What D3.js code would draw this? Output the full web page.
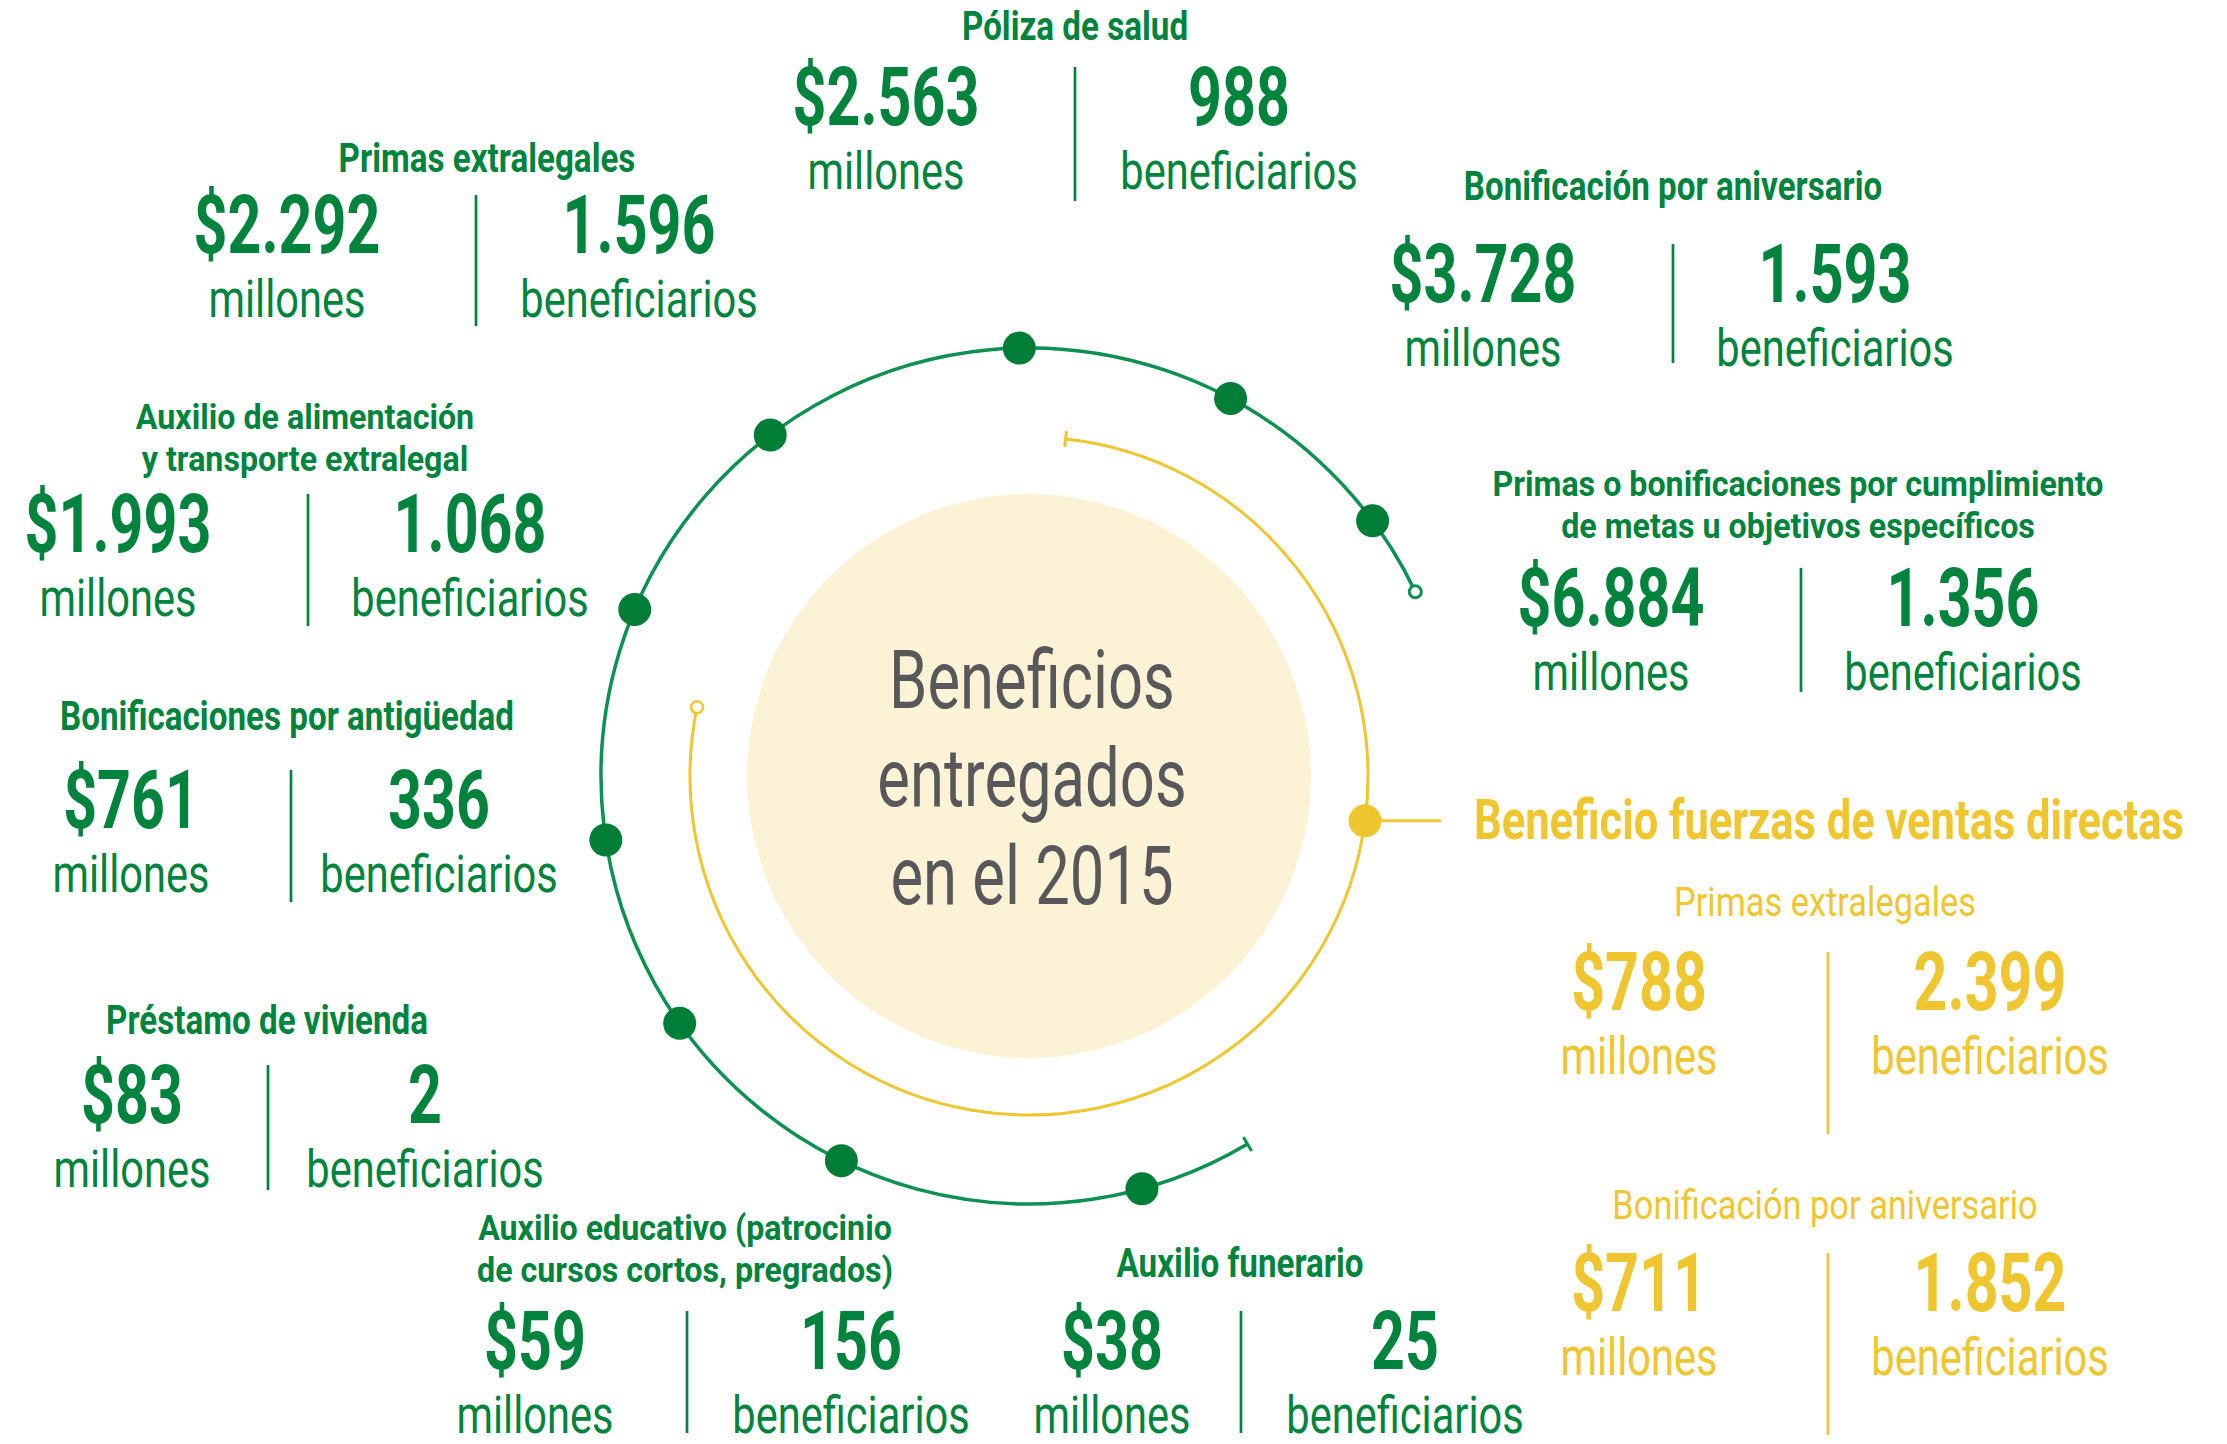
<!DOCTYPE html>
<html><head><meta charset="utf-8">
<script src="https://cdn.jsdelivr.net/npm/d3@7"></script>
<style>html,body{margin:0;padding:0;background:#fff;overflow:hidden}svg{display:block}</style>
</head><body>
<script>
// ---------- DATA ----------
const categories = [
  "Póliza de salud",
  "Primas extralegales",
  "Bonificación por aniversario",
  "Auxilio de alimentación\ny transporte extralegal",
  "Primas o bonificaciones por cumplimiento\nde metas u objetivos específicos",
  "Bonificaciones por antigüedad",
  "Préstamo de vivienda",
  "Auxilio educativo (patrocinio\nde cursos cortos, pregrados)",
  "Auxilio funerario"
];
const amountLabels = ["$2.563","$2.292","$3.728","$1.993","$6.884","$761","$83","$59","$38"];
const beneficiaryLabels = ["988","1.596","1.593","1.068","1.356","336","2","156","25"];
const salesGroup = "Beneficio fuerzas de ventas directas";
const salesCategories = ["Primas extralegales","Bonificación por aniversario"];
const salesAmountLabels = ["$788","$711"];
const salesBeneficiaryLabels = ["2.399","1.852"];
const centerTitle = ["Beneficios","entregados","en el 2015"];
const unitLabels = ["millones","beneficiarios"];

// ---------- LAYOUT ----------
const W = 2227, H = 1444;
const C = {x: 1029, y: 776};
const greenRing = {r: 428, start: 149.3, end: 424.5};
const yellowRing = {r: 339, start: 6.2, end: 281.7};
const greenDotAngles = [-1.3, 28.1, 53.4, -37.2, -67.1, 261.4, 234.7, 206.0, 164.7];
const yellowDotAngle = 97.6;
const greenLayout = [
  {div:1075, top:67,  h:134, left:886,  right:1239, tx:1075, ty:[40]},
  {div:476,  top:195, h:131, left:287,  right:639,  tx:487,  ty:[172]},
  {div:1673, top:244, h:119, left:1483, right:1835, tx:1673, ty:[200]},
  {div:308,  top:494, h:132, left:118,  right:470,  tx:305,  ty:[429,471]},
  {div:1801, top:568, h:124, left:1611, right:1963, tx:1798, ty:[496,538]},
  {div:291,  top:770, h:132, left:131,  right:439,  tx:287,  ty:[730]},
  {div:268,  top:1065,h:125, left:132,  right:425,  tx:267,  ty:[1034]},
  {div:687,  top:1311,h:122, left:535,  right:851,  tx:685,  ty:[1240,1282]},
  {div:1241, top:1311,h:122, left:1112, right:1405, tx:1240, ty:[1277]}
];
const salesLayout = [
  {div:1828, top:952,  h:182, left:1639, right:1990, tx:1825, ty:[916]},
  {div:1828, top:1253, h:182, left:1639, right:1990, tx:1825, ty:[1219]}
];
const GREEN = "#00843d", RING_GREEN = "#0b9150", DOT_GREEN = "#007d36";
const YELLOW = "#efc530", BEIGE = "#fcf3d6", GREY = "#58585a";
const FONT = "Roboto, 'Open Sans', sans-serif";

const svg = d3.select("body").append("svg").attr("width", W).attr("height", H);
const rad = d => d * Math.PI / 180;

function txt(parent, str, x, y, o) {
  return parent.append("text")
    .attr("transform", `translate(${x},${y}) scale(${o.sx},1)`)
    .attr("text-anchor", o.anchor || "middle")
    .attr("font-family", FONT)
    .attr("font-size", o.size)
    .attr("font-weight", o.weight || 400)
    .attr("fill", o.color)
    .text(str);
}

// center circle
svg.append("circle").attr("cx", C.x).attr("cy", C.y).attr("r", 282).attr("fill", BEIGE);
centerTitle.forEach((s, i) => txt(svg, s, C.x + 3, 708 + i * 98, {size: 81, sx: 0.76, color: GREY}));

// rings
function arcPath(r, a0, a1) {
  const p = d3.path();
  p.arc(C.x, C.y, r, rad(a0 - 90), rad(a1 - 90), false);
  return p.toString();
}
function tick(r, a, color, w) {
  const p0 = d3.pointRadial(rad(a), r - 8), p1 = d3.pointRadial(rad(a), r + 8);
  svg.append("line").attr("x1", C.x + p0[0]).attr("y1", C.y + p0[1])
    .attr("x2", C.x + p1[0]).attr("y2", C.y + p1[1]).attr("stroke", color).attr("stroke-width", w);
}
function openEnd(r, a, color, w) {
  const p = d3.pointRadial(rad(a), r);
  svg.append("circle").attr("cx", C.x + p[0]).attr("cy", C.y + p[1]).attr("r", 6)
    .attr("fill", "#fff").attr("stroke", color).attr("stroke-width", w);
}
svg.append("path").attr("d", arcPath(yellowRing.r, yellowRing.start, yellowRing.end))
  .attr("fill", "none").attr("stroke", YELLOW).attr("stroke-width", 3);
tick(yellowRing.r, yellowRing.start, YELLOW, 3);
openEnd(yellowRing.r, yellowRing.end, YELLOW, 2.5);

svg.append("path").attr("d", arcPath(greenRing.r, greenRing.start, greenRing.end))
  .attr("fill", "none").attr("stroke", RING_GREEN).attr("stroke-width", 3.5);
tick(greenRing.r, greenRing.start, RING_GREEN, 3);
openEnd(greenRing.r, greenRing.end, RING_GREEN, 3);

svg.selectAll("circle.gdot").data(greenDotAngles).enter().append("circle")
  .attr("class", "gdot")
  .attr("cx", a => C.x + d3.pointRadial(rad(a), greenRing.r)[0])
  .attr("cy", a => C.y + d3.pointRadial(rad(a), greenRing.r)[1])
  .attr("r", 16.5).attr("fill", DOT_GREEN);

const yd = d3.pointRadial(rad(yellowDotAngle), yellowRing.r);
svg.append("line").attr("x1", C.x + yd[0]).attr("y1", C.y + yd[1])
  .attr("x2", 1441).attr("y2", C.y + yd[1]).attr("stroke", YELLOW).attr("stroke-width", 3);
svg.append("circle").attr("cx", C.x + yd[0]).attr("cy", C.y + yd[1]).attr("r", 16.5).attr("fill", YELLOW);
txt(svg, salesGroup, 1474, 839, {size: 56, sx: 0.776, weight: 700, color: YELLOW, anchor: "start"});

// blocks
function block(title, amt, ben, L, color, titleWeight, titleSx) {
  const g = svg.append("g");
  const lines = title.split("\n");
  // two-line titles use a slightly smaller size so the line boxes do not collide
  const tSize = lines.length > 1 ? 35.5 : 40;
  const tSx = titleSx * 40 / tSize * (lines.length > 1 ? 0.97 : 1);
  lines.forEach((line, i) => txt(g, line, L.tx, L.ty[i], {size: tSize, sx: tSx, weight: titleWeight, color}));
  g.append("line").attr("x1", L.div).attr("x2", L.div).attr("y1", L.top).attr("y2", L.top + L.h)
    .attr("stroke", color).attr("stroke-width", 2.7);
  txt(g, amt, L.left, L.top + 58, {size: 81, sx: 0.73, weight: 700, color});
  txt(g, ben, L.right, L.top + 58, {size: 81, sx: 0.73, weight: 700, color});
  txt(g, unitLabels[0], L.left, L.top + 121.5, {size: 52, sx: 0.80, color});
  txt(g, unitLabels[1], L.right, L.top + 121.5, {size: 52, sx: 0.80, color});
}
categories.forEach((c, i) => block(c, amountLabels[i], beneficiaryLabels[i], greenLayout[i], GREEN, 700, 0.83));
salesCategories.forEach((c, i) => block(c, salesAmountLabels[i], salesBeneficiaryLabels[i], salesLayout[i], YELLOW, 400, 0.86));
</script>
</body></html>
